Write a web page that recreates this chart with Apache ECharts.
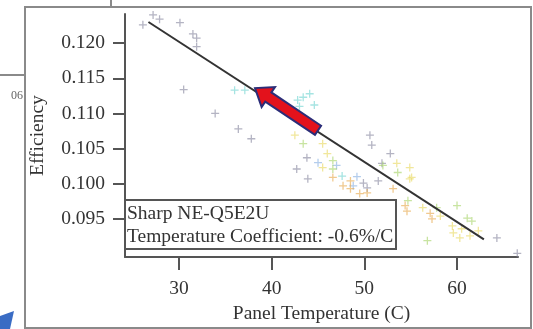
<!DOCTYPE html>
<html>
<head>
<meta charset="utf-8">
<script src="https://cdn.jsdelivr.net/npm/echarts@6.0.0/dist/echarts.min.js"></script>
<style>
  html, body { margin: 0; padding: 0; background: #fff; }
  #chart { width: 533px; height: 329px; }
</style>
</head>
<body>
<div id="chart"></div>
<script>
// tick values
var xTicks = [30, 40, 50, 60];
var yTicks = [0.095, 0.100, 0.105, 0.110, 0.115, 0.120];

// measured points, grouped by marker colour  [temperature, efficiency]
var grayPts = [[26.1,0.1226],[27.2,0.1240],[27.9,0.1234],[30.1,0.1229],[31.5,0.1213],[31.9,0.1207],
  [31.9,0.1195],[30.5,0.1134],[33.9,0.1100],[36.4,0.1078],[37.8,0.1064],[42.7,0.1021],[43.9,0.1007],
  [43.8,0.1037],[50.6,0.1069],[50.8,0.1055],[52.8,0.1043],[51.9,0.1029],[49.9,0.1001],[50.3,0.0994],
  [51.5,0.1004],[64.3,0.0923],[66.5,0.0901]];
var cyanPts = [[36.0,0.1133],[37.1,0.1133],[42.8,0.1119],[43.4,0.1123],[44.1,0.1128],[44.6,0.1112],
  [43.0,0.1110],[47.6,0.1011]];
var bluePts = [[47.0,0.1026],[48.8,0.0997],[45.0,0.1030],[49.2,0.1010]];
var greenPts = [[43.4,0.1057],[46.6,0.1021],[46.6,0.1033],[53.6,0.1016],[54.7,0.0976],[57.8,0.0966],
  [60.0,0.0969],[61.1,0.0951],[61.6,0.0947],[56.8,0.0919],[52.0,0.1026]];
var yellowPts = [[42.5,0.1069],[45.5,0.1057],[45.5,0.1023],[46.0,0.1043],[53.5,0.1029],[54.9,0.1023],
  [55.1,0.1009],[54.9,0.1007],[56.3,0.0966],[58.2,0.0954],[59.5,0.0940],[60.5,0.0936],[61.4,0.0926],
  [62.3,0.0933],[60.3,0.0923],[59.6,0.0930]];
var orangePts = [[48.5,0.1004],[49.5,0.0986],[48.5,0.0993],[46.6,0.1009],[47.7,0.0997],[50.3,0.0987],
  [53.1,0.0993],[54.4,0.0969],[54.6,0.0961],[57.1,0.0958],[57.3,0.0950]];

// linear fit end points
var fitLine = [[26.7, 0.1230], [62.9, 0.0921]];

// red arrow annotation (data coords)
var arrowFrom = [45.0, 0.1076];
var arrowTo = [38.2, 0.1136];

var serif = 'Liberation Serif';
var fs = 19.5;
var plus = 'path://M0,4.2H10V5.8H0ZM4.2,0H5.8V10H4.2Z';

function pts(name, data, color) {
  return {
    name: name, type: 'scatter', data: data, symbol: plus, symbolSize: 8,
    itemStyle: { color: color, opacity: 0.62 }, z: 2
  };
}

var myChart = echarts.init(document.getElementById('chart'));

var option = {
  animation: false,
  backgroundColor: '#fff',
  grid: { left: 125, top: 14, right: 15, bottom: 71 },
  title: {
    text: 'Sharp NE-Q5E2U\nTemperature Coefficient: -0.6%/C',
    left: 125, top: 200,
    padding: [2, 3, 1, 2],
    backgroundColor: '#fff',
    borderColor: '#555', borderWidth: 2,
    textStyle: { fontFamily: serif, fontSize: fs, fontWeight: 'normal', color: '#333', lineHeight: 23 }
  },
  xAxis: {
    type: 'value', min: 24.17, max: 66.58,
    name: 'Panel Temperature (C)', nameLocation: 'middle', nameGap: 46,
    nameTextStyle: { fontFamily: serif, fontSize: fs, color: '#333' },
    splitLine: { show: false },
    axisLine: { lineStyle: { color: '#555', width: 2 } },
    axisTick: { customValues: xTicks, length: 13, lineStyle: { color: '#555', width: 2 } },
    axisLabel: { customValues: xTicks, margin: 22, fontFamily: serif, fontSize: fs, color: '#333' }
  },
  yAxis: {
    type: 'value', min: 0.08957, max: 0.12414,
    name: 'Efficiency', nameLocation: 'middle', nameGap: 77,
    nameTextStyle: { fontFamily: serif, fontSize: fs, color: '#333' },
    splitLine: { show: false },
    axisLine: { lineStyle: { color: '#555', width: 2 } },
    axisTick: { customValues: yTicks, length: 12, lineStyle: { color: '#555', width: 2 } },
    axisLabel: {
      customValues: yTicks, margin: 20, fontFamily: serif, fontSize: fs, color: '#333',
      formatter: function (v) { return v.toFixed(3); }
    }
  },
  series: [
    pts('gray', grayPts, '#86869e'),
    pts('cyan', cyanPts, '#6fd3d0'),
    pts('blue', bluePts, '#86aee0'),
    pts('green', greenPts, '#a6d468'),
    pts('yellow', yellowPts, '#e8d860'),
    pts('orange', orangePts, '#e6a84a'),
    {
      name: 'fit', type: 'line', data: fitLine, symbol: 'none',
      lineStyle: { color: '#333', width: 2 }, z: 3
    }
  ],
  graphic: [
    { type: 'rect', shape: { x: 25, y: 7, width: 506, height: 321 },
      style: { fill: 'none', stroke: '#8a8a8a', lineWidth: 2 }, z: 0 },
    { type: 'line', shape: { x1: 0, y1: 75, x2: 25, y2: 75 }, style: { stroke: '#8a8a8a', lineWidth: 2 } },
    { type: 'line', shape: { x1: 111, y1: 0, x2: 111, y2: 7 }, style: { stroke: '#8a8a8a', lineWidth: 2 } },
    { type: 'text', x: 11, y: 90, style: { text: '06', fontFamily: serif, fontSize: 12, fill: '#666' } },
    { type: 'polygon', shape: { points: [[0, 316], [14, 311], [10, 329], [0, 329]] },
      style: { fill: '#3a6cc4' } }
  ]
};

myChart.setOption(option);

// arrow built from data coordinates
var p0 = myChart.convertToPixel({ gridIndex: 0 }, arrowFrom);
var p1 = myChart.convertToPixel({ gridIndex: 0 }, arrowTo);
var dx = p1[0] - p0[0], dy = p1[1] - p0[1];
var len = Math.sqrt(dx * dx + dy * dy);
var ux = dx / len, uy = dy / len, nx = -uy, ny = ux;
var sw = 5.5, hw = 12, hl = 16;
var bx = p1[0] - ux * hl, by = p1[1] - uy * hl;
var arrowPts = [
  [p0[0] + nx * sw, p0[1] + ny * sw],
  [bx + nx * sw, by + ny * sw],
  [bx + nx * hw, by + ny * hw],
  [p1[0], p1[1]],
  [bx - nx * hw, by - ny * hw],
  [bx - nx * sw, by - ny * sw],
  [p0[0] - nx * sw, p0[1] - ny * sw]
];
option.graphic.push({
  type: 'polygon', shape: { points: arrowPts },
  style: { fill: '#e3121c', stroke: '#2b2d78', lineWidth: 2 }, z: 10
});
myChart.setOption({ graphic: option.graphic });
</script>
</body>
</html>
